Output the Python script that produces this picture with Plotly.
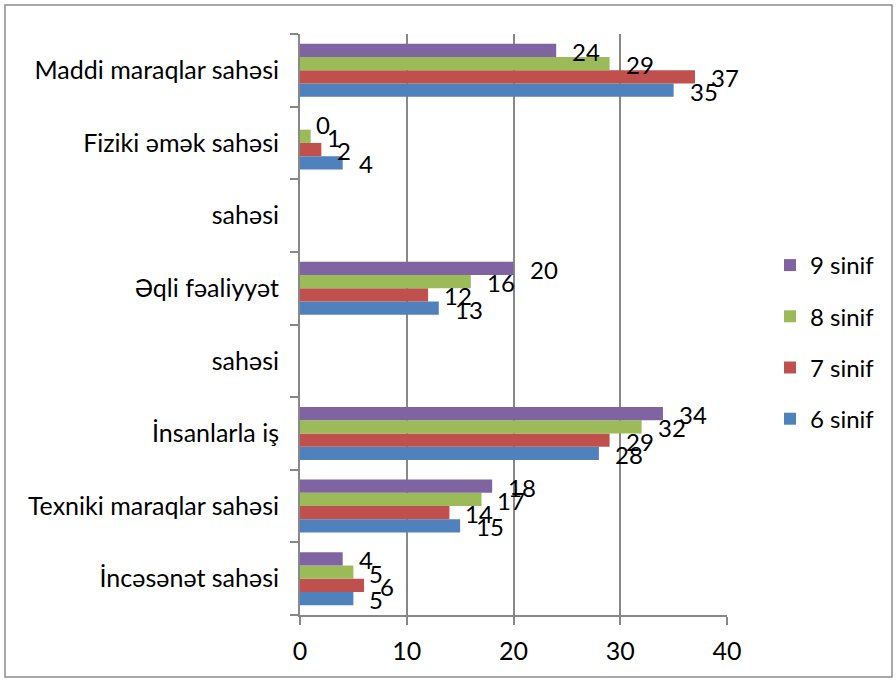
import plotly.graph_objects as go

# Categories from bottom to top (two empty rows labelled "sahəsi")
categories = ["İncəsənət sahəsi", "Texniki maraqlar sahəsi", "İnsanlarla iş", "sahəsi",
              "Əqli fəaliyyət", "sahəsi", "Fiziki əmək sahəsi", "Maddi maraqlar sahəsi"]
cat_keys = [f"c{i}" for i in range(len(categories))]

series_names = ["6 sinif", "7 sinif", "8 sinif", "9 sinif"]
sinif6 = [5, 15, 28, None, 13, None, 4, 35]
sinif7 = [6, 14, 29, None, 12, None, 2, 37]
sinif8 = [5, 17, 32, None, 16, None, 1, 29]
sinif9 = [4, 18, 34, None, 20, None, 0, 24]
series_values = [sinif6, sinif7, sinif8, sinif9]
colors = ["#4F81BD", "#C0504D", "#9BBB59", "#8064A2"]

x_ticks = [0, 10, 20, 30, 40]

FONT = "Lato"
FS = 25
W, H = 896, 681
L, R, T, B = 300, 169, 34, 66
BARGAP = 0.27

fig = go.Figure()
n = len(series_names)
for i, (name, vals, col) in enumerate(zip(series_names, series_values, colors)):
    fig.add_trace(go.Bar(
        y=cat_keys, x=vals, name=name, orientation="h",
        marker=dict(color=col, line=dict(width=0)),
        legendgroup=name, legendrank=n - i,
    ))

# data labels
plot_h = H - T - B
cat_px = plot_h / len(categories)
bar_px = cat_px * (1 - BARGAP) / n
annotations = []
for i, vals in enumerate(series_values):
    yshift = (i - (n - 1) / 2) * bar_px - 1
    for key, v in zip(cat_keys, vals):
        if v is None:
            continue
        annotations.append(dict(
            x=v, y=key, xref="x", yref="y", text=str(v), showarrow=False,
            xanchor="left", yanchor="middle", xshift=14, yshift=yshift,
            font=dict(family=FONT, size=FS - 1, color="black"),
        ))

pw = W - L - R
border = dict(
    type="rect", xref="paper", yref="paper",
    x0=(5 - L) / pw, x1=(892 - L) / pw,
    y0=-(677 - (H - B)) / plot_h, y1=(H - B - 5) / plot_h,
    line=dict(color="#8c8c8c", width=1.5), fillcolor="rgba(0,0,0,0)", layer="below",
)

fig.update_layout(
    width=W, height=H,
    margin=dict(l=L, r=R, t=T, b=B, autoexpand=False),
    barmode="group", bargap=BARGAP, bargroupgap=0,
    paper_bgcolor="white", plot_bgcolor="white",
    font=dict(family=FONT, size=FS, color="black"),
    showlegend=True,
    legend=dict(
        x=(770 - L) / pw, xanchor="left", y=(H - B - 342) / plot_h, yanchor="middle",
        traceorder="grouped", tracegroupgap=17,
        font=dict(family=FONT, size=FS - 1, color="black"),
        bgcolor="rgba(0,0,0,0)",
    ),
    xaxis=dict(
        range=[0, 40], tickvals=x_ticks, ticktext=[str(t) for t in x_ticks],
        showgrid=True, gridcolor="#888888", gridwidth=2,
        zeroline=False, showline=True, linecolor="#888888", linewidth=2,
        ticks="outside", ticklen=8, tickcolor="#888888", tickwidth=2,
        ticklabelstandoff=5,
        tickfont=dict(family=FONT, size=FS, color="black"),
    ),
    yaxis=dict(
        type="category", categoryorder="array", categoryarray=cat_keys,
        tickvals=cat_keys, ticktext=categories,
        range=[-0.5, len(categories) - 0.5],
        showgrid=False, zeroline=False, showline=True, linecolor="#888888", linewidth=2,
        ticks="outside", ticklen=8, tickcolor="#888888", tickwidth=2,
        tickson="boundaries", ticklabelstandoff=14,
        tickfont=dict(family=FONT, size=FS, color="black"),
    ),
    annotations=annotations,
    shapes=[border],
)

fig.write_html("out.html", config={"displayModeBar": False},
               post_script="document.body.style.margin='0px';")
